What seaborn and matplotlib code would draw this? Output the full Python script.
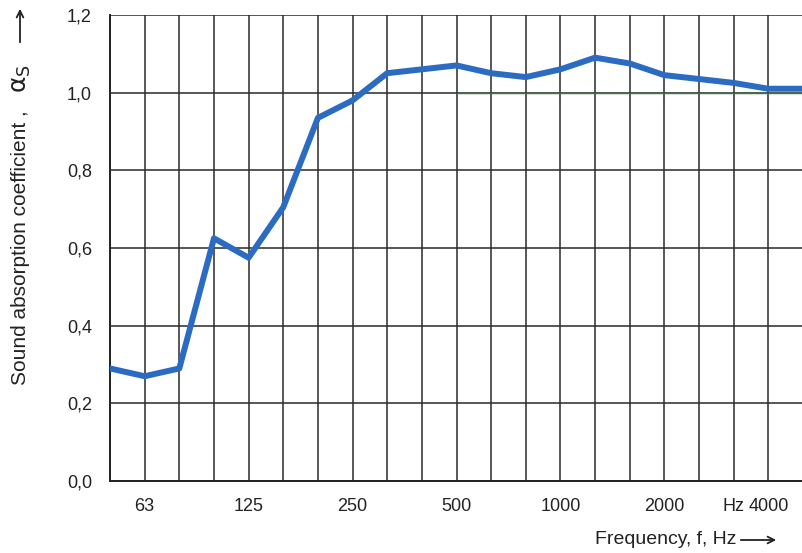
import numpy as np
import pandas as pd
import seaborn as sns
import matplotlib.pyplot as plt

# third-octave band centres and measured absorption
freqs = [50, 63, 80, 100, 125, 160, 200, 250, 315, 400, 500, 630, 800,
         1000, 1250, 1600, 2000, 2500, 3150, 4000, 5000]
alpha_s = [0.29, 0.27, 0.29, 0.625, 0.575, 0.705, 0.935, 0.98, 1.05, 1.06,
           1.07, 1.05, 1.04, 1.06, 1.09, 1.075, 1.045, 1.035, 1.025, 1.01, 1.01]
tick_labels = {63: '63', 125: '125', 250: '250', 500: '500', 1000: '1000',
               2000: '2000', 3150: 'Hz', 4000: '4000'}
y_ticks = [0.0, 0.2, 0.4, 0.6, 0.8, 1.0, 1.2]

df = pd.DataFrame({'band': np.arange(len(freqs)), 'freq': freqs, 'alpha': alpha_s})

sns.set_theme(style='white', rc={'axes.edgecolor': '#222222', 'text.color': '#222222',
                                 'xtick.color': '#222222', 'ytick.color': '#222222'})
plt.rcParams['font.family'] = ['Liberation Sans', 'DejaVu Sans']

fig = plt.figure(figsize=(8.03, 5.53), dpi=100)
ax = fig.add_axes([0.137, 0.130, 0.863, 0.843])

sns.lineplot(data=df, x='band', y='alpha', color='#2b6bc2', lw=4.3, ax=ax, zorder=3)

# scan artefact: greenish trace along the 1,0 line
ax.plot([10, 20], [1.0, 1.0], color='#2f7d40', lw=1.0, zorder=2)

ax.set_xlim(0, 19.92)
ax.set_ylim(0, 1.2)
ax.set_xticks(df['band'])
ax.set_xticklabels([tick_labels.get(f, '') for f in freqs], fontsize=13)
ax.set_yticks(y_ticks)
ax.set_yticklabels([f'{v:.1f}'.replace('.', ',') for v in y_ticks], fontsize=13)
ax.tick_params(axis='both', length=0)
ax.tick_params(axis='x', pad=12)
ax.tick_params(axis='y', pad=13)
ax.grid(True, color='#2a2a2a', lw=1.1)
for s in ['top', 'right']:
    ax.spines[s].set_visible(False)
for s in ['left', 'bottom']:
    ax.spines[s].set_linewidth(1.4)
ax.set_xlabel('')
ax.set_ylabel('')

fig.text(0.025, 0.304, 'Sound absorption coefficient ,', rotation=90,
         ha='center', va='bottom', fontsize=15)
fig.text(0.026, 0.858, r'$\mathrm{\alpha}_\mathrm{S}$', rotation=90,
         ha='center', va='center', fontsize=18)
fig.text(0.741, 0.024, 'Frequency, f, Hz', ha='left', va='center', fontsize=14)

# long thin arrows next to the axis titles
arrow = dict(arrowstyle='->', lw=1.3, color='#222222', mutation_scale=12)
ax.annotate('', xy=(20, 547), xytext=(20, 508), xycoords='figure pixels',
            textcoords='figure pixels', arrowprops=arrow, annotation_clip=False)
ax.annotate('', xy=(779, 13), xytext=(738, 13), xycoords='figure pixels',
            textcoords='figure pixels', arrowprops=arrow, annotation_clip=False)

plt.savefig('out.png', dpi=100)
